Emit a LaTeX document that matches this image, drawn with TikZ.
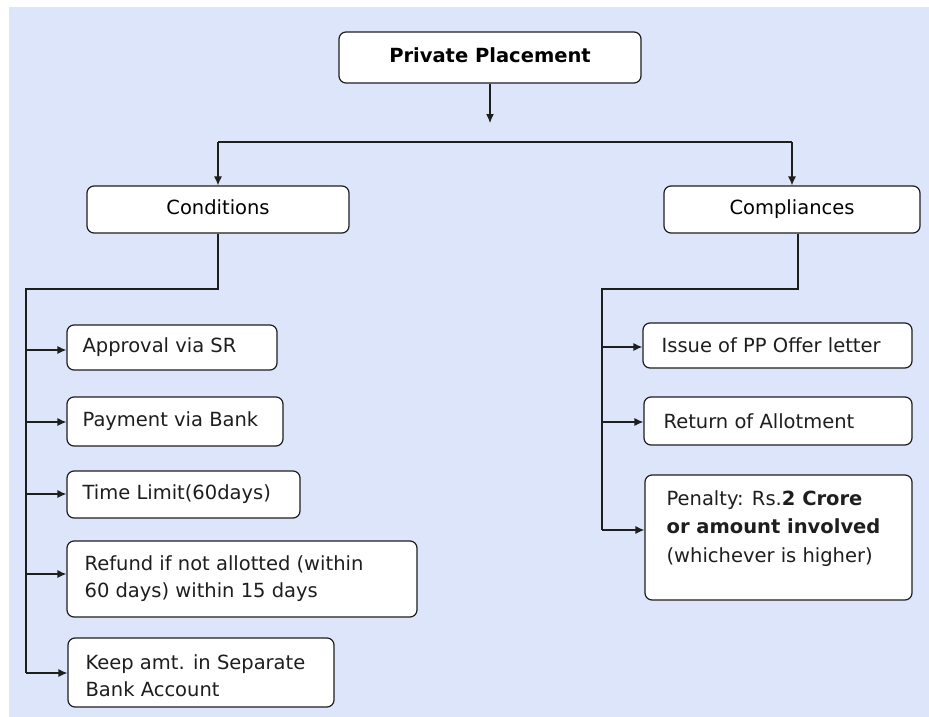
\documentclass[tikz,border=0pt]{standalone}
\usepackage{fontspec}
\setmainfont{DejaVu Sans}
\usetikzlibrary{arrows.meta}
\definecolor{bgblue}{RGB}{221,229,250}
\definecolor{ink}{RGB}{30,30,30}
\tikzset{
  box/.style={draw=ink, line width=1.2pt, rounded corners=7pt, fill=white, inner sep=0pt},
  hbox/.style={box, text height=14pt, text depth=4pt},
  lbl/.style={anchor=west, inner sep=0pt, align=left, text=ink},
  conn/.style={draw=ink, line width=1.2pt},
  arr/.style={conn, -{Latex[length=9pt,width=8pt]}}
}
\begin{document}
\begin{tikzpicture}[x=1pt,y=-1pt, font=\fontsize{19.5}{27}\selectfont]
\useasboundingbox (0,0) rectangle (929,717);
\fill[bgblue] (9,7) rectangle (929,717);

% top level
\node[hbox, minimum width=302pt, minimum height=51pt, font=\fontsize{19.5}{27}\selectfont\bfseries] (pp) at (490,57.5) {Private Placement};
\coordinate (tip) at (490,123);
\coordinate (hl) at (490,142);
\node[hbox, minimum width=262pt, minimum height=47pt] (cond) at (218,209.5) {Conditions};
\node[hbox, minimum width=256pt, minimum height=47pt] (comp) at (792,209.5) {Compliances};

% conditions
\node[box, minimum width=210pt, minimum height=45pt] (a1) at (172,347.5) {};
\node[box, minimum width=216pt, minimum height=49pt] (a2) at (175,421.5) {};
\node[box, minimum width=233pt, minimum height=47pt] (a3) at (183.5,494.5) {};
\node[box, minimum width=350pt, minimum height=76pt] (a4) at (242,579) {};
\node[box, minimum width=266pt, minimum height=69pt] (a5) at (201,672.5) {};
\node[lbl] (t1) at ([xshift=16pt]a1.west) {Approval via SR};
\node[lbl] (t2) at ([xshift=16pt]a2.west) {Payment via Bank};
\node[lbl] (t3) at ([xshift=16pt]a3.west) {Time Limit(60days)};
\node[lbl] (t4) at ([xshift=18pt]a4.west) {Refund if not allotted (within\\60 days) within 15 days};
\node[lbl] (t5) at ([xshift=18pt,yshift=-3pt]a5.west) {Keep amt. in Separate\\Bank Account};

% compliances
\node[box, minimum width=269pt, minimum height=45pt] (b1) at (777.5,345.5) {};
\node[box, minimum width=268pt, minimum height=48pt] (b2) at (778,421) {};
\node[box, minimum width=267pt, minimum height=125pt] (b3) at (778.5,537.5) {};
\node[lbl] (u1) at ([xshift=19pt]b1.west) {Issue of PP Offer letter};
\node[lbl] (u2) at ([xshift=20pt]b2.west) {Return of Allotment};
\node[lbl, font=\fontsize{19.5}{28.5}\selectfont] (u3) at ([xshift=22pt,yshift=9pt]b3.west) {Penalty: Rs.\textbf{2 Crore}\\\textbf{or amount involved}\\(whichever is higher)};

% connectors
\draw[arr] (pp.south) -- (tip);
\draw[conn] (hl -| cond.north) -- (hl -| comp.north);
\draw[arr] (hl -| cond.north) -- (cond.north);
\draw[arr] (hl -| comp.north) -- (comp.north);

\coordinate (lb) at (26,289);
\coordinate (rb) at (602,289);
\draw[conn] (cond.south) |- (lb) -- (lb |- 0,673);
\draw[conn] ([xshift=6pt]comp.south) |- (rb) -- (rb |- 0,530);

\draw[arr] (lb |- 0,350) -- (a1.west |- 0,350);
\draw[arr] (lb |- 0,422) -- (a2.west |- 0,422);
\draw[arr] (lb |- 0,494) -- (a3.west |- 0,494);
\draw[arr] (lb |- 0,574) -- (a4.west |- 0,574);
\draw[arr] (lb |- 0,673) -- (a5.west |- 0,673);

\draw[arr] (rb |- 0,347) -- (b1.west |- 0,347);
\draw[arr] (rb |- 0,422) -- (b2.west |- 0,422);
\draw[arr] (rb |- 0,530) -- (b3.west |- 0,530);
\end{tikzpicture}
\end{document}
